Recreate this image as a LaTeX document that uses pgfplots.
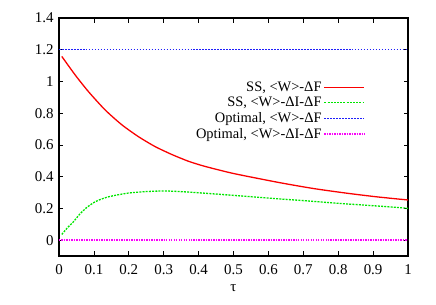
\documentclass[border=0pt]{standalone}
\usepackage{fontspec}
\setmainfont{Liberation Serif}
\usepackage{pgfplots}
\pgfplotsset{compat=1.18}
\definecolor{gpred}{RGB}{250,0,0}
\definecolor{gpgreen}{RGB}{0,230,0}
\definecolor{gpblue}{RGB}{30,30,250}
\definecolor{gpmag}{RGB}{250,0,250}
\begin{document}
\begin{tikzpicture}
\begin{axis}[
  scale only axis, width=349bp, height=238bp,
  xmin=0, xmax=1, ymin=-0.1, ymax=1.4,
  xtick={0,0.1,0.2,0.3,0.4,0.5,0.6,0.7,0.8,0.9,1},
  ytick={0,0.2,0.4,0.6,0.8,1,1.2,1.4},
  tick align=inside,
  axis line style={line width=1.3pt},
  major tick length=4.5bp,
  tick style={black, line width=0.8pt},
  /pgf/number format/assume math mode=true,
  tick label style={font=\fontsize{15}{16}\selectfont},
  xticklabel style={yshift=-5bp},
  yticklabel style={xshift=-2bp},
  label style={font=\fontsize{15}{16}\selectfont},
  xlabel={τ},
  xlabel style={yshift=-3bp},
  legend style={at={(rel axis cs:0.877,0.74)}, anchor=north east, draw=none, fill=none,
    inner sep=0pt, outer sep=0pt, font=\fontsize{14.5}{15}\selectfont, row sep=0.3bp},
  legend cell align=right,
  legend plot pos=right,
  legend image code/.code={\draw[#1] (0bp,0bp) -- (40bp,0bp);},
]
\addplot[draw=gpred, line width=1.3pt, smooth, tension=0.4, forget plot] coordinates {
(0.008,1.158) (0.046,1.042) (0.084,0.937) (0.132,0.821) (0.18,0.727) (0.227,0.653)
(0.275,0.59) (0.323,0.54) (0.371,0.497) (0.418,0.465) (0.5,0.42) (0.633,0.362)
(0.73,0.325) (0.824,0.296) (0.91,0.273) (1.0,0.253)};
\addplot[draw=gpgreen, line width=1.3pt, dash pattern=on 2pt off 1.2pt, smooth, tension=0.4, forget plot] coordinates {
(0.008,0.036) (0.025,0.08) (0.041,0.115) (0.06,0.165) (0.079,0.205) (0.1,0.237) (0.117,0.255)
(0.14,0.272) (0.165,0.284) (0.2,0.297) (0.25,0.306) (0.3,0.31) (0.347,0.306) (0.404,0.298)
(0.5,0.282) (0.6,0.265) (0.7,0.249) (0.8,0.232) (0.9,0.217) (1.0,0.201)};
\addplot[draw=gpblue, line width=1.5pt, dash pattern=on 1.6pt off 1.4pt, forget plot] coordinates {(0,1.2) (1,1.2)};
\addplot[draw=gpmag, line width=1.3pt, dash pattern=on 1.4pt off 1.1pt, forget plot] coordinates {(0,0) (1,0)};
\addlegendimage{draw=gpred, line width=1.3pt}
\addlegendentry{SS, <W>-ΔF}
\addlegendimage{draw=gpgreen, line width=1.3pt, dash pattern=on 2pt off 1.2pt}
\addlegendentry{SS, <W>-ΔI-ΔF}
\addlegendimage{draw=gpblue, line width=1.5pt, dash pattern=on 1.6pt off 1.4pt}
\addlegendentry{Optimal, <W>-ΔF}
\addlegendimage{draw=gpmag, line width=1.3pt, dash pattern=on 1.4pt off 1.1pt}
\addlegendentry{Optimal, <W>-ΔI-ΔF}
\end{axis}
\path (current axis.south west) ++(-59bp,-49bp) coordinate (bbsw);
\path (current axis.north east) ++(28bp,18bp) coordinate (bbne);
\useasboundingbox (bbsw) rectangle (bbne);
\end{tikzpicture}
\end{document}
